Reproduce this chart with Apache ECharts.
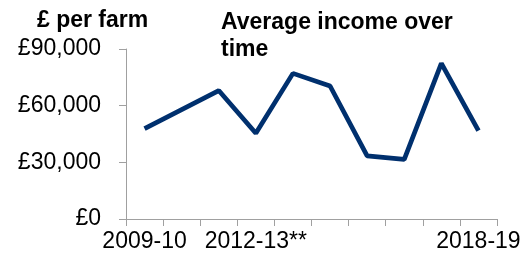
<!DOCTYPE html>
<html><head><meta charset="utf-8">
<script src="https://cdn.jsdelivr.net/npm/echarts@6/dist/echarts.min.js"></script>
<style>html,body{margin:0;padding:0;background:#fff}#c{width:525px;height:261px}</style>
</head><body><div id="c"></div>
<script>
const categories = ['2009-10','2010-11','2011-12','2012-13**','2013-14','2014-15','2015-16','2016-17','2017-18','2018-19'];
const income = [47800, 57900, 68000, 45400, 77100, 70400, 33400, 31600, 82400, 46800];
const shownLabels = ['2009-10','2012-13**','2018-19'];
const yTicks = [0, 30000, 60000, 90000];

const chart = echarts.init(document.getElementById('c'), null, {renderer:'canvas'});
const font = 'Liberation Sans, Arial, sans-serif';
chart.setOption({
  animation:false,
  backgroundColor:'#fff',
  textStyle:{fontFamily:font},
  title:[
    {text:'£ per farm', left:32, top:4, textStyle:{fontFamily:font, fontSize:23, fontWeight:'bold', color:'#000'}},
    {text:'Average income over\ntime', left:216, top:4, textStyle:{fontFamily:font, fontSize:23, fontWeight:'bold', color:'#000', lineHeight:27}}
  ],
  grid:{left:126, right:28, top:49, bottom:42},
  xAxis:{
    type:'category', data:categories, boundaryGap:true,
    axisLine:{lineStyle:{color:'#a0a0a0', width:1}},
    axisTick:{show:true, length:7, lineStyle:{color:'#a0a0a0'}, interval:0},
    axisLabel:{interval:0, margin:11, fontSize:23, color:'#000', fontFamily:font,
      formatter:v=>shownLabels.includes(v)?v:''}
  },
  yAxis:{
    type:'value', min:yTicks[0], max:yTicks[yTicks.length-1], interval:30000,
    splitLine:{show:false},
    axisLine:{show:true, lineStyle:{color:'#a0a0a0', width:1}},
    axisTick:{show:true, length:7, lineStyle:{color:'#a0a0a0'}},
    axisLabel:{margin:25, fontSize:23, color:'#000', fontFamily:font,
      formatter:v=>'£'+v.toLocaleString('en-GB')}
  },
  series:[{
    type:'line', data:income, symbol:'none',
    lineStyle:{color:'#00306e', width:4.7}
  }]
});
</script></body></html>
